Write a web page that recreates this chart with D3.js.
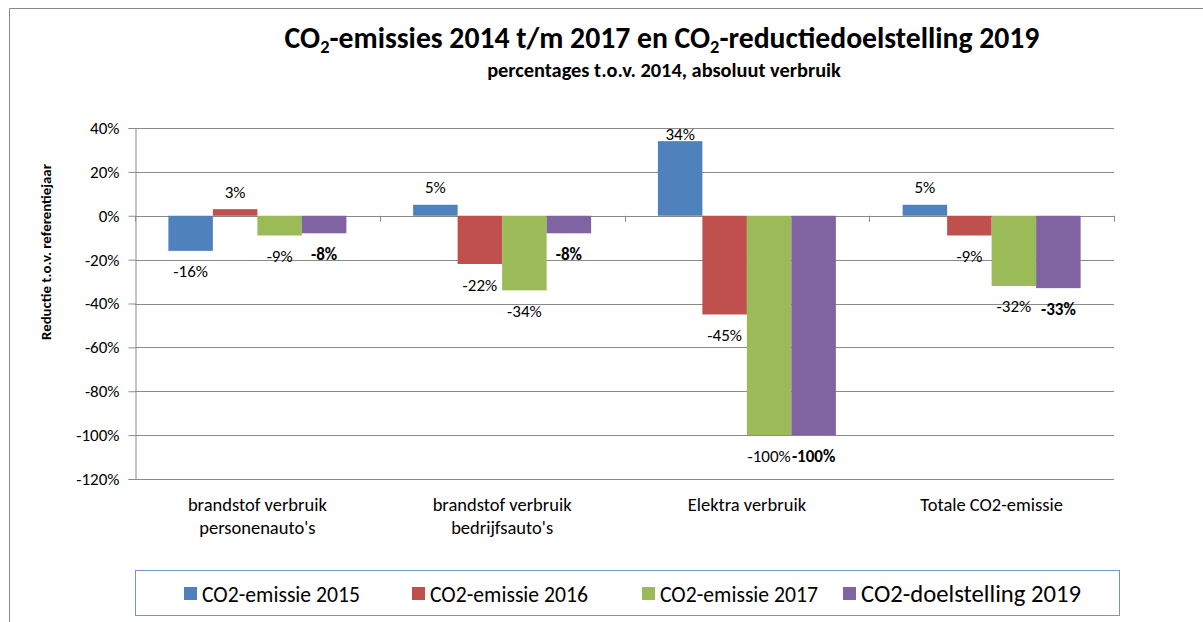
<!DOCTYPE html>
<html>
<head>
<meta charset="utf-8">
<script src="https://cdn.jsdelivr.net/npm/d3@7"></script>
<style>
  html, body { margin: 0; padding: 0; background: #fff; }
  svg { display: block; font-family: Carlito, Lato, "Open Sans", sans-serif; }
</style>
</head>
<body>
<svg id="chart" width="1203" height="622"></svg>
<script>
// ---- data ----
const categories = [
  ["brandstof verbruik", "personenauto's"],
  ["brandstof verbruik", "bedrijfsauto's"],
  ["Elektra verbruik"],
  ["Totale CO2-emissie"]
];
const seriesNames = ["CO2-emissie 2015", "CO2-emissie 2016", "CO2-emissie 2017", "CO2-doelstelling 2019"];
const emissie2015 = [-16, 5, 34, 5];
const emissie2016 = [3, -22, -45, -9];
const emissie2017 = [-9, -34, -100, -32];
const doel2019   = [-8, -8, -100, -33];
const yTicks = [40, 20, 0, -20, -40, -60, -80, -100, -120];

const seriesValues = [emissie2015, emissie2016, emissie2017, doel2019];
const colors = ["#4F81BD", "#C0504D", "#9BBB59", "#8064A2"];
const gridColor = "#8a8a8a";

const svg = d3.select("#chart");

function fit(sel, target) {
  const n = sel.node();
  const w = n.getComputedTextLength();
  const fs = parseFloat(sel.attr("font-size"));
  if (w > 0) sel.attr("font-size", (fs * target / w).toFixed(2));
  return fs * target / w;
}

// outer frame (left + top)
svg.append("path")
  .attr("d", "M9.5,622 L9.5,8.5 L1203,8.5")
  .attr("fill", "none").attr("stroke", gridColor).attr("stroke-width", 1);

// ---- scales ----
const catKeys = categories.map((c, i) => i);
const x0 = d3.scaleBand().domain(catKeys).range([135, 1114]).paddingInner(0).paddingOuter(0);
const bw = x0.bandwidth();
const barW = bw / 5.5;
const x1 = d3.scaleBand().domain(d3.range(seriesNames.length)).range([0.75 * barW, bw - 0.75 * barW]).padding(0);
const y = d3.scaleLinear().domain([-120, 40]).range([479, 128]);

// gridlines
svg.append("g").selectAll("line").data(yTicks).join("line")
  .attr("x1", 135).attr("x2", 1114)
  .attr("y1", d => Math.round(y(d)) + 0.5).attr("y2", d => Math.round(y(d)) + 0.5)
  .attr("stroke", gridColor).attr("stroke-width", 1);

// y axis
const yAxis = d3.axisLeft(y).tickValues(yTicks).tickSize(7).tickPadding(9).tickFormat(d => d + "%");
const gy = svg.append("g").attr("transform", "translate(135.5,0)").call(yAxis);
gy.select(".domain").attr("stroke", gridColor);
gy.selectAll(".tick line").attr("stroke", gridColor);
gy.selectAll(".tick text").attr("font-size", 17).attr("font-family", "Carlito, Lato, sans-serif").attr("fill", "#000");

// bars
const bars = [];
seriesValues.forEach((vals, s) => vals.forEach((v, c) => bars.push({ s, c, v })));
svg.append("g").selectAll("rect").data(bars).join("rect")
  .attr("x", d => x0(d.c) + x1(d.s))
  .attr("width", x1.bandwidth())
  .attr("y", d => y(Math.max(0, d.v)))
  .attr("height", d => Math.abs(y(d.v) - y(0)))
  .attr("fill", d => colors[d.s]);

// category tick marks on zero line
svg.append("g").selectAll("line").data(d3.range(categories.length + 1)).join("line")
  .attr("x1", d => Math.round(135 + d * bw) + 0.5).attr("x2", d => Math.round(135 + d * bw) + 0.5)
  .attr("y1", y(0)).attr("y2", y(0) + 6)
  .attr("stroke", gridColor);

// data labels
svg.append("g").selectAll("text").data(bars).join("text")
  .attr("x", d => x0(d.c) + x1(d.s) + x1.bandwidth() / 2)
  .attr("y", d => d.v >= 0 ? Math.max(y(d.v) - 17, y(40) + 6) : y(d.v) + 21)
  .attr("text-anchor", "middle").attr("dominant-baseline", "central")
  .attr("font-size", 17)
  .attr("font-weight", d => d.s === 3 ? "bold" : "normal")
  .attr("fill", "#000")
  .text(d => d.v + "%");

// category labels
const cg = svg.append("g");
const catTexts = [];
categories.forEach((lines, i) => {
  lines.forEach((ln, j) => {
    catTexts.push(cg.append("text")
      .attr("x", x0(i) + bw / 2)
      .attr("y", 504 + j * 23)
      .attr("text-anchor", "middle").attr("dominant-baseline", "central")
      .attr("font-size", 16).attr("fill", "#000")
      .text(ln));
  });
});
const catFs = fit(catTexts[0], 139);
catTexts.forEach(t => t.attr("font-size", catFs.toFixed(2)));

// y-axis title
const yt = svg.append("text")
  .attr("transform", "translate(46,252) rotate(-90)")
  .attr("text-anchor", "middle").attr("dominant-baseline", "central")
  .attr("font-size", 14).attr("font-weight", "bold").attr("fill", "#000")
  .text("Reductie t.o.v. referentiejaar");
fit(yt, 176);

// title
const title = svg.append("text")
  .attr("x", 662).attr("y", 48)
  .attr("text-anchor", "middle")
  .attr("font-size", 27).attr("font-weight", "bold").attr("fill", "#000");
const parts = [["CO", 0], ["2", 1], ["-emissies 2014 t/m 2017 en CO", 2], ["2", 1], ["-reductiedoelstelling 2019", 2]];
parts.forEach(([t, kind]) => {
  title.append("tspan")
    .attr("font-size", kind === 1 ? "0.62em" : null)
    .attr("dy", kind === 1 ? "0.26em" : kind === 2 ? "-0.161em" : null)
    .text(t);
});
fit(title, 755);

const sub = svg.append("text")
  .attr("x", 664).attr("y", 77)
  .attr("text-anchor", "middle")
  .attr("font-size", 15).attr("font-weight", "bold").attr("fill", "#000")
  .text("percentages t.o.v. 2014, absoluut verbruik");
fit(sub, 354);

// legend
const lg = svg.append("g");
lg.append("rect").attr("x", 135.5).attr("y", 570.5).attr("width", 984).attr("height", 45)
  .attr("fill", "#fff").attr("stroke", "#7396c8").attr("stroke-width", 1);
const legX = [184, 412, 642, 843];
const legW = [158, 158, 158, 220];
seriesNames.forEach((name, i) => {
  lg.append("rect").attr("x", legX[i]).attr("y", 587).attr("width", 13).attr("height", 13).attr("fill", colors[i]);
  const t = lg.append("text").attr("x", legX[i] + 18).attr("y", 594)
    .attr("dominant-baseline", "central").attr("font-size", 18).attr("fill", "#000").text(name);
  fit(t, legW[i]);
});
</script>
</body>
</html>
